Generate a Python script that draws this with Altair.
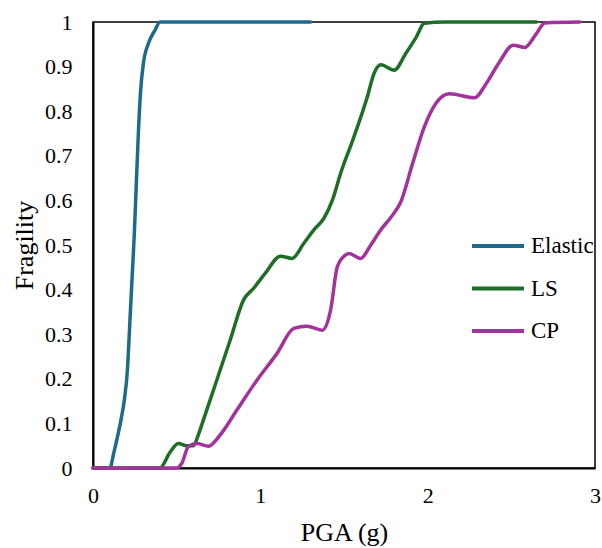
import altair as alt
import pandas as pd

series = ["Elastic", "LS", "CP"]
colors = ["#1F6A8A", "#1E6E28", "#A2329C"]

elastic_x = [0, 0.10, 0.125, 0.151, 0.17, 0.187, 0.207, 0.217, 0.227, 0.237, 0.247, 0.255, 0.271, 0.285, 0.301,
             0.331, 0.371, 0.40, 0.55, 1.30]
elastic_y = [0, 0, 0.035, 0.078, 0.113, 0.152, 0.227, 0.302, 0.377, 0.451, 0.526, 0.601, 0.75, 0.848, 0.907,
             0.952, 0.982, 1.0, 1.0, 1.0]

ls_x = [0, 0.40, 0.46, 0.51, 0.56, 0.60, 0.63, 0.66, 0.72, 0.82, 0.90, 0.96, 1.03, 1.12, 1.19, 1.26, 1.32,
        1.38, 1.43, 1.48, 1.56, 1.64, 1.68, 1.72, 1.80, 1.87, 1.93, 1.98, 2.10, 2.65]
ls_y = [0, 0, 0.035, 0.055, 0.05, 0.05, 0.075, 0.108, 0.175, 0.287, 0.377, 0.403, 0.437, 0.475, 0.470, 0.504, 0.534,
        0.56, 0.60, 0.661, 0.743, 0.833, 0.885, 0.904, 0.892, 0.930, 0.965, 0.997, 1.0, 1.0]

cp_x = [0, 0.50, 0.53, 0.57, 0.62, 0.69, 0.76, 0.86, 0.98, 1.10, 1.20, 1.28, 1.37, 1.42, 1.46, 1.51, 1.53,
        1.60, 1.66, 1.72, 1.79, 1.84, 1.91, 1.98, 2.05, 2.13, 2.28, 2.35, 2.43, 2.51, 2.58, 2.65, 2.70, 2.91]
cp_y = [0, 0, 0.01, 0.048, 0.055, 0.049, 0.074, 0.13, 0.197, 0.257, 0.313, 0.318, 0.309, 0.354, 0.451, 0.478, 0.481,
        0.470, 0.50, 0.534, 0.567, 0.597, 0.683, 0.765, 0.818, 0.839, 0.830, 0.862, 0.911, 0.948, 0.943, 0.974, 0.998, 1.0]

x_ticks = [0, 1, 2, 3]
y_ticks = [0, 0.1, 0.2, 0.3, 0.4, 0.5, 0.6, 0.7, 0.8, 0.9, 1]

rows = []
for name, xs, ys in [("Elastic", elastic_x, elastic_y), ("LS", ls_x, ls_y), ("CP", cp_x, cp_y)]:
    for i, (xv, yv) in enumerate(zip(xs, ys)):
        rows.append({"series": name, "pga": xv, "frag": yv, "idx": i})
df = pd.DataFrame(rows)

FONT = "Liberation Serif"

chart = alt.Chart(df).mark_line(
    strokeWidth=3.5, interpolate="monotone", strokeCap="round", strokeJoin="round"
).encode(
    x=alt.X("pga:Q",
            scale=alt.Scale(domain=[0, 3], nice=False, zero=False),
            axis=alt.Axis(values=x_ticks, title="PGA (g)", ticks=False, grid=False, labelFlush=False,
                          labelFontSize=22, labelFont=FONT, labelColor="black", labelPadding=17,
                          domainColor="black", domainWidth=2,
                          titleFont=FONT, titleFontSize=26, titleFontWeight="normal", titleColor="black",
                          titleY=64, titleBaseline="middle")),
    y=alt.Y("frag:Q",
            scale=alt.Scale(domain=[0, 1], nice=False),
            axis=alt.Axis(values=y_ticks, format="~g", title="Fragility", ticks=False, grid=False,
                          labelFlush=False,
                          labelFontSize=22, labelFont=FONT, labelColor="black", labelPadding=21,
                          domainColor="black", domainWidth=2,
                          titleFont=FONT, titleFontSize=26, titleFontWeight="normal", titleColor="black",
                          titleX=-69, titleY=223, titleBaseline="middle")),
    color=alt.Color("series:N",
                    scale=alt.Scale(domain=series, range=colors),
                    sort=series,
                    legend=alt.Legend(title=None, orient="none", legendX=377, legendY=212,
                                      symbolType="stroke", symbolSize=2704, symbolStrokeWidth=4,
                                      clipHeight=24, rowPadding=18.5, padding=0,
                                      labelFont=FONT, labelFontSize=23, labelColor="black",
                                      labelOffset=5)),
    order="idx:Q",
).properties(
    width=502, height=446,
    padding={"left": 93, "top": 22, "right": 7, "bottom": 80},
    autosize="none",
).configure(
    background="white",
    font=FONT,
).configure_view(
    stroke="black", strokeWidth=1.5
)

chart.save("out.html", embed_options={"renderer": "svg", "actions": False})
